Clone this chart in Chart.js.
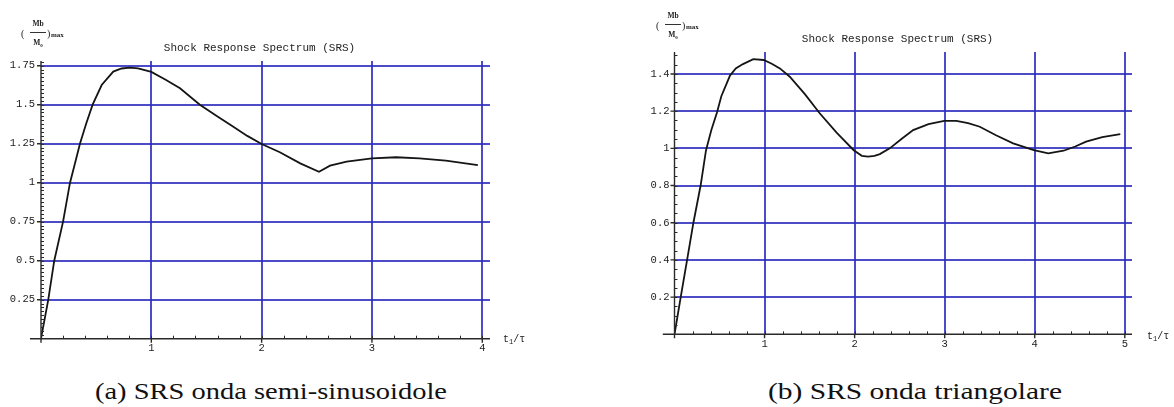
<!DOCTYPE html>
<html>
<head>
<meta charset="utf-8">
<script src="https://cdn.jsdelivr.net/npm/chart.js@4.4.1/dist/chart.umd.min.js"></script>
<style>
  html, body { margin: 0; padding: 0; background: #fff; width: 1174px; height: 407px; overflow: hidden; }
  canvas { position: absolute; top: 0; }
  .mono { position: absolute; white-space: nowrap; font-family: 'Liberation Mono', 'DejaVu Sans Mono', monospace; color: #222; }
  .title { font-size: 11px; transform: translate(-50%, -50%); }
  .axlbl { font-size: 10px; transform: translateY(-50%); }
  .axlbl sub { font-size: 7px; vertical-align: -2px; }
  .ylab { position: absolute; font-family: 'Liberation Serif', serif; color: #222; white-space: nowrap; }
  .ylab .par { position: absolute; font-size: 10px; transform: translateY(-50%); }
  .ylab .num, .ylab .den { position: absolute; font-size: 7.5px; font-weight: bold; transform: translate(-50%, -50%); }
  .ylab .bar { position: absolute; height: 1px; background: #333; }
  .ylab .max { position: absolute; font-size: 7px; font-weight: bold; transform: translateY(-50%); }
  .cap { position: absolute; white-space: nowrap; font-family: 'Liberation Serif', 'DejaVu Serif', serif; font-size: 23px; line-height: 23px; color: #111; transform-origin: 0 0; }
</style>
</head>
<body>
<canvas id="srsA" width="590" height="360" style="left:0px"></canvas>
<canvas id="srsB" width="584" height="360" style="left:590px"></canvas>

<div class="mono title" style="left:259.5px; top:48px;">Shock Response Spectrum (SRS)</div>
<div class="mono title" style="left:897.5px; top:39px;">Shock Response Spectrum (SRS)</div>

<div class="mono axlbl" style="left:503px; top:340px;">t<sub>1</sub>/τ</div>
<div class="mono axlbl" style="left:1147px; top:337px;">t<sub>1</sub>/τ</div>

<div id="ylabA" class="ylab"></div>
<div id="ylabB" class="ylab"></div>

<div id="capA" class="cap" style="left:95px; top:380px;">(a) SRS onda semi-sinusoidole</div>
<div id="capB" class="cap" style="left:768px; top:380px;">(b) SRS onda triangolare</div>

<script>
// Half-sine pulse: peak response ratio versus t1/tau
const semiSineRatio = [0, 0.066, 0.12, 0.20, 0.263, 0.31, 0.353, 0.41, 0.468, 0.55, 0.655, 0.73, 0.806, 0.88, 1.0,
  1.13, 1.26, 1.44, 1.6, 1.74, 1.87, 2.0, 2.165, 2.35, 2.52, 2.62, 2.77, 3.0, 3.22, 3.43, 3.67, 3.96];
const semiSineSRS = [0, 0.25, 0.5, 0.75, 1.0, 1.13, 1.25, 1.38, 1.50, 1.626, 1.712, 1.732, 1.738, 1.733, 1.71,
  1.66, 1.605, 1.50, 1.425, 1.36, 1.30, 1.248, 1.195, 1.124, 1.07, 1.109, 1.135, 1.156, 1.163, 1.156, 1.141, 1.113];

// Triangular pulse: peak response ratio versus t1/tau
const triangleRatio = [0, 0.069, 0.14, 0.21, 0.29, 0.35, 0.41, 0.47, 0.52, 0.615, 0.68, 0.76, 0.875, 0.99, 1.08,
  1.17, 1.28, 1.45, 1.61, 1.80, 1.99, 2.08, 2.15, 2.22, 2.28, 2.39, 2.52, 2.65, 2.82, 2.995, 3.13, 3.26, 3.39,
  3.57, 3.76, 3.99, 4.15, 4.32, 4.45, 4.57, 4.75, 4.95];
const triangleSRS = [0, 0.2, 0.4, 0.6, 0.8, 0.99, 1.10, 1.19, 1.28, 1.39, 1.43, 1.453, 1.48, 1.475, 1.455,
  1.43, 1.385, 1.29, 1.19, 1.085, 0.99, 0.96, 0.955, 0.96, 0.969, 1.0, 1.05, 1.098, 1.13, 1.148, 1.148, 1.135, 1.116,
  1.07, 1.027, 0.99, 0.973, 0.987, 1.01, 1.036, 1.06, 1.077];

// Tick values and labels
const xTicksA = [1, 2, 3, 4];
const xTickLabelsA = ['1', '2', '3', '4'];
const yTicksA = [0.25, 0.5, 0.75, 1, 1.25, 1.5, 1.75];
const yTickLabelsA = ['0.25', '0.5', '0.75', '1', '1.25', '1.5', '1.75'];
const xTicksB = [1, 2, 3, 4, 5];
const xTickLabelsB = ['1', '2', '3', '4', '5'];
const yTicksB = [0.2, 0.4, 0.6, 0.8, 1, 1.2, 1.4];
const yTickLabelsB = ['0.2', '0.4', '0.6', '0.8', '1', '1.2', '1.4'];

const GRID_BLUE = 'rgba(45, 45, 190, 0.85)';
const TICK_FONT = { family: "'Liberation Mono', 'DejaVu Sans Mono', monospace", size: 10.5 };

// Black Mathematica-style axes with major and minor tick marks
const blackAxes = {
  id: 'blackAxes',
  afterDatasetsDraw(chart, args, o) {
    const { ctx, chartArea: a, scales: { x, y } } = chart;
    const x0 = x.getPixelForValue(0);
    const y0 = y.getPixelForValue(0);
    ctx.save();
    ctx.strokeStyle = '#2a2a2a';
    ctx.lineWidth = 1.4;
    ctx.beginPath();
    ctx.moveTo(x.getPixelForValue(o.xFrom), y0);
    ctx.lineTo(a.right, y0);
    ctx.moveTo(x0, a.top);
    ctx.lineTo(x0, y0 + 4);
    y.ticks.forEach(t => { const p = y.getPixelForValue(t.value); ctx.moveTo(x0 - 4, p); ctx.lineTo(x0, p); });
    x.ticks.forEach(t => { const p = x.getPixelForValue(t.value); ctx.moveTo(p, y0); ctx.lineTo(p, y0 + 4); });
    ctx.stroke();
    ctx.lineWidth = 1;
    ctx.beginPath();
    for (let k = 1; k * o.yMinor < y.max; k++) {
      const p = Math.round(y.getPixelForValue(k * o.yMinor)) + 0.5;
      ctx.moveTo(x0, p); ctx.lineTo(x0 + 3, p);
    }
    for (let k = 1; k * o.xMinor < x.max; k++) {
      const p = Math.round(x.getPixelForValue(k * o.xMinor)) + 0.5;
      ctx.moveTo(p, y0); ctx.lineTo(p, y0 - 3);
    }
    ctx.stroke();
    ctx.restore();
  }
};

function srsChart(id, xs, ys, g) {
  const pts = xs.map((v, i) => ({ x: v, y: ys[i] }));
  return new Chart(document.getElementById(id), {
    type: 'scatter',
    data: { datasets: [{ data: pts, showLine: true, borderColor: '#151515', borderWidth: 1.8, pointRadius: 0, tension: 0, fill: false }] },
    options: {
      responsive: false,
      animation: false,
      devicePixelRatio: 1,
      layout: { padding: g.padding },
      plugins: { legend: { display: false }, title: { display: false }, tooltip: { enabled: false }, blackAxes: g.axes },
      scales: {
        x: {
          type: 'linear', min: 0, max: g.xMax,
          afterBuildTicks: s => { s.ticks = g.xTicks.map(v => ({ value: v })); },
          afterFit: s => { s.height = g.xAxisHeight; },
          ticks: { callback: (v, i) => g.xLabels[i], font: TICK_FONT, color: '#222', padding: g.xPad, autoSkip: false, maxRotation: 0 },
          grid: { color: GRID_BLUE, lineWidth: 2, drawTicks: false },
          border: { display: false }
        },
        y: {
          type: 'linear', min: 0, max: g.yMax,
          afterBuildTicks: s => { s.ticks = g.yTicks.map(v => ({ value: v })); },
          afterFit: s => { s.width = g.yAxisWidth; },
          ticks: { callback: (v, i) => g.yLabels[i], font: TICK_FONT, color: '#222', padding: g.yPad, autoSkip: false },
          grid: { color: GRID_BLUE, lineWidth: 2, drawTicks: false },
          border: { display: false }
        }
      }
    },
    plugins: [blackAxes]
  });
}

srsChart('srsA', semiSineRatio, semiSineSRS, {
  padding: { left: 0, right: 100, top: 61, bottom: 0 },
  yAxisWidth: 41, xAxisHeight: 21.3, xMax: 4.07, yMax: 1.78,
  xTicks: xTicksA, xLabels: xTickLabelsA, yTicks: yTicksA, yLabels: yTickLabelsA,
  xPad: 3, yPad: 6,
  axes: { xFrom: -0.1, xMinor: 0.2, yMinor: 0.025 }
});

srsChart('srsB', triangleRatio, triangleSRS, {
  padding: { left: 0, right: 42, top: 52, bottom: 0 },
  yAxisWidth: 84.5, xAxisHeight: 25.7, xMax: 5.08, yMax: 1.518,
  xTicks: xTicksB, xLabels: xTickLabelsB, yTicks: yTicksB, yLabels: yTickLabelsB,
  xPad: 4, yPad: 5,
  axes: { xFrom: -0.13, xMinor: 0.2, yMinor: 0.05 }
});

// Y-axis quantity (Mb / M0)max, set as a small stacked fraction
function yLabel(id, ox, oy) {
  const el = document.getElementById(id);
  el.style.left = ox + 'px';
  el.style.top = oy + 'px';
  el.innerHTML =
    '<span class="par" style="left:0px;top:1px">(</span>' +
    '<span class="num" style="left:17px;top:-9px">Mb</span>' +
    '<span class="bar" style="left:9px;top:0px;width:16px"></span>' +
    '<span class="den" style="left:17px;top:11px">M<sub style="font-size:5px">0</sub></span>' +
    '<span class="par" style="left:26px;top:1px">)</span>' +
    '<span class="max" style="left:30px;top:3px">max</span>';
}
yLabel('ylabA', 21, 32);
yLabel('ylabB', 656, 24);

// Fit the sub-figure captions to their set widths
function fitCaption(id, w) {
  const el = document.getElementById(id);
  const cur = el.getBoundingClientRect().width;
  el.style.transform = 'scaleX(' + (w / cur) + ')';
}
fitCaption('capA', 352);
fitCaption('capB', 294);
</script>
</body>
</html>
